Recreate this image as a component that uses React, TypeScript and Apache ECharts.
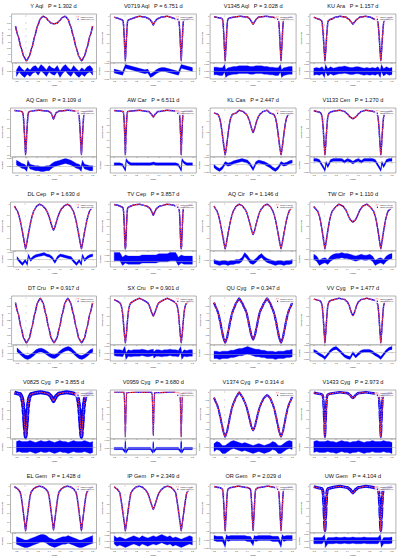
import React, { useEffect, useRef } from "react";
import * as echarts from "echarts";

// ---------- DATA ----------
const STARS = [
  "Y Aql", "V0719 Aql", "V1345 Aql", "KU Ara",
  "AQ Cam", "AW Car", "KL Cas", "V1133 Cen",
  "DL Cep", "TV Cep", "AQ Cir", "TW Cir",
  "DT Cru", "SX Cru", "QU Cyg", "VV Cyg",
  "V0825 Cyg", "V0959 Cyg", "V1374 Cyg", "V1433 Cyg",
  "EL Gem", "IP Gem", "OR Gem", "UW Gem",
];
const PERIODS = [
  1.302, 6.751, 3.028, 1.157,
  3.109, 6.511, 2.447, 1.27,
  1.63, 3.857, 1.146, 1.11,
  0.917, 0.901, 0.347, 1.477,
  3.855, 3.68, 0.314, 2.973,
  1.428, 2.349, 2.029, 4.104,
];
const X_TICKS = [-0.2, 0, 0.2, 0.4, 0.6, 0.8, 1.0, 1.2];

// light curves: [phase, normalized flux], phase 0..1
const LC_Y_AQL = [[0,0.65],[0.05,0.685],[0.1,0.755],[0.15,0.843],[0.2,0.923],[0.25,0.979],[0.3,1.0],[0.35,0.99],[0.4,0.965],[0.45,0.944],[0.5,0.941],[0.55,0.944],[0.6,0.965],[0.65,0.99],[0.7,1.0],[0.75,0.979],[0.8,0.923],[0.85,0.843],[0.9,0.755],[0.95,0.685]];
const LC_V0719_AQL = [[0,0.5],[0.01,0.625],[0.02,0.75],[0.03,0.875],[0.04,0.95],[0.06,0.96],[0.15,0.98],[0.2,0.99],[0.25,1.0],[0.35,0.99],[0.43,0.97],[0.47,0.94],[0.5,0.9],[0.53,0.94],[0.57,0.97],[0.65,0.99],[0.75,1.0],[0.8,0.99],[0.85,0.98],[0.94,0.96],[0.96,0.95],[0.97,0.875],[0.98,0.75],[0.99,0.625]];
const LC_V1345_AQL = [[0,0.5],[0.01,0.6],[0.02,0.725],[0.03,0.85],[0.04,0.94],[0.05,0.97],[0.08,0.98],[0.2,0.995],[0.27,1.0],[0.4,0.99],[0.44,0.97],[0.47,0.94],[0.5,0.91],[0.53,0.94],[0.56,0.97],[0.6,0.99],[0.73,1.0],[0.8,0.995],[0.92,0.98],[0.95,0.97],[0.96,0.94],[0.97,0.85],[0.98,0.725],[0.99,0.6]];
const LC_KU_ARA = [[0,0.5],[0.01,0.575],[0.02,0.675],[0.03,0.775],[0.04,0.86],[0.05,0.93],[0.06,0.95],[0.1,0.965],[0.2,0.99],[0.27,1.0],[0.37,0.99],[0.43,0.965],[0.47,0.935],[0.5,0.91],[0.53,0.935],[0.57,0.965],[0.63,0.99],[0.73,1.0],[0.8,0.99],[0.9,0.965],[0.94,0.95],[0.95,0.93],[0.96,0.86],[0.97,0.775],[0.98,0.675],[0.99,0.575]];
const LC_AQ_CAM = [[0,0.5],[0.01,0.6],[0.02,0.725],[0.03,0.84],[0.04,0.93],[0.05,0.975],[0.07,0.985],[0.15,0.995],[0.2,0.998],[0.25,1.0],[0.4,0.99],[0.45,0.975],[0.47,0.95],[0.5,0.9],[0.53,0.95],[0.55,0.975],[0.6,0.99],[0.75,1.0],[0.8,0.998],[0.85,0.995],[0.93,0.985],[0.95,0.975],[0.96,0.93],[0.97,0.84],[0.98,0.725],[0.99,0.6]];
const LC_AW_CAR = [[0,0.4],[0.005,0.52],[0.01,0.64],[0.02,0.82],[0.03,0.952],[0.04,0.982],[0.1,0.988],[0.2,0.995],[0.25,1.0],[0.42,0.982],[0.46,0.952],[0.5,0.91],[0.54,0.952],[0.58,0.982],[0.75,1.0],[0.8,0.995],[0.9,0.988],[0.96,0.982],[0.97,0.952],[0.98,0.82],[0.99,0.64],[0.995,0.52]];
const LC_KL_CAS = [[0,0.6],[0.02,0.66],[0.04,0.74],[0.06,0.82],[0.08,0.888],[0.1,0.932],[0.13,0.964],[0.2,0.976],[0.25,1.0],[0.32,0.988],[0.37,0.968],[0.4,0.948],[0.43,0.912],[0.46,0.86],[0.48,0.824],[0.5,0.8],[0.52,0.824],[0.54,0.86],[0.57,0.912],[0.6,0.948],[0.63,0.968],[0.68,0.988],[0.75,1.0],[0.8,0.976],[0.87,0.964],[0.9,0.932],[0.92,0.888],[0.94,0.82],[0.96,0.74],[0.98,0.66]];
const LC_V1133_CEN = [[0,0.5],[0.01,0.575],[0.02,0.675],[0.03,0.775],[0.04,0.86],[0.05,0.925],[0.07,0.965],[0.1,0.98],[0.2,0.995],[0.27,1.0],[0.35,0.985],[0.4,0.96],[0.45,0.925],[0.5,0.905],[0.55,0.925],[0.6,0.96],[0.65,0.985],[0.73,1.0],[0.8,0.995],[0.9,0.98],[0.93,0.965],[0.95,0.925],[0.96,0.86],[0.97,0.775],[0.98,0.675],[0.99,0.575]];
const LC_DL_CEP = [[0,0.6],[0.02,0.648],[0.04,0.704],[0.06,0.76],[0.08,0.812],[0.1,0.86],[0.12,0.9],[0.15,0.944],[0.2,0.984],[0.25,1.0],[0.3,0.988],[0.35,0.964],[0.38,0.94],[0.4,0.916],[0.42,0.888],[0.44,0.856],[0.46,0.82],[0.48,0.788],[0.5,0.768],[0.52,0.788],[0.54,0.82],[0.56,0.856],[0.58,0.888],[0.6,0.916],[0.62,0.94],[0.65,0.964],[0.7,0.988],[0.75,1.0],[0.8,0.984],[0.85,0.944],[0.88,0.9],[0.9,0.86],[0.92,0.812],[0.94,0.76],[0.96,0.704],[0.98,0.648]];
const LC_TV_CEP = [[0,0.4],[0.005,0.412],[0.01,0.49],[0.02,0.7],[0.03,0.88],[0.04,0.952],[0.06,0.964],[0.15,0.988],[0.2,0.995],[0.25,1.0],[0.38,0.976],[0.44,0.946],[0.47,0.904],[0.5,0.85],[0.53,0.904],[0.56,0.946],[0.62,0.976],[0.75,1.0],[0.8,0.995],[0.85,0.988],[0.94,0.964],[0.96,0.952],[0.97,0.88],[0.98,0.7],[0.99,0.49],[0.995,0.412]];
const LC_AQ_CIR = [[0,0.6],[0.02,0.648],[0.04,0.704],[0.06,0.76],[0.08,0.812],[0.1,0.86],[0.12,0.9],[0.15,0.944],[0.2,0.984],[0.25,1.0],[0.3,0.988],[0.35,0.96],[0.38,0.932],[0.4,0.904],[0.42,0.868],[0.44,0.832],[0.46,0.792],[0.48,0.752],[0.5,0.728],[0.52,0.752],[0.54,0.792],[0.56,0.832],[0.58,0.868],[0.6,0.904],[0.62,0.932],[0.65,0.96],[0.7,0.988],[0.75,1.0],[0.8,0.984],[0.85,0.944],[0.88,0.9],[0.9,0.86],[0.92,0.812],[0.94,0.76],[0.96,0.704],[0.98,0.648]];
const LC_TW_CIR = [[0,0.6],[0.02,0.66],[0.04,0.728],[0.06,0.792],[0.08,0.848],[0.1,0.892],[0.13,0.94],[0.2,0.98],[0.25,1.0],[0.32,0.984],[0.37,0.952],[0.4,0.92],[0.43,0.884],[0.46,0.856],[0.5,0.84],[0.54,0.856],[0.57,0.884],[0.6,0.92],[0.63,0.952],[0.68,0.984],[0.75,1.0],[0.8,0.98],[0.87,0.94],[0.9,0.892],[0.92,0.848],[0.94,0.792],[0.96,0.728],[0.98,0.66]];
const LC_DT_CRU = [[0,0.7],[0.05,0.73],[0.1,0.805],[0.15,0.895],[0.2,0.97],[0.25,1.0],[0.3,0.97],[0.35,0.895],[0.4,0.805],[0.45,0.73],[0.5,0.7],[0.55,0.73],[0.6,0.805],[0.65,0.895],[0.7,0.97],[0.75,1.0],[0.8,0.97],[0.85,0.895],[0.9,0.805],[0.95,0.73]];
const LC_SX_CRU = [[0,0.5],[0.01,0.55],[0.02,0.61],[0.03,0.69],[0.04,0.765],[0.05,0.83],[0.06,0.88],[0.08,0.93],[0.1,0.95],[0.15,0.97],[0.2,0.985],[0.25,1.0],[0.3,0.985],[0.35,0.97],[0.4,0.95],[0.42,0.93],[0.45,0.88],[0.47,0.84],[0.5,0.8],[0.53,0.84],[0.55,0.88],[0.58,0.93],[0.6,0.95],[0.65,0.97],[0.7,0.985],[0.75,1.0],[0.8,0.985],[0.85,0.97],[0.9,0.95],[0.92,0.93],[0.94,0.88],[0.95,0.83],[0.96,0.765],[0.97,0.69],[0.98,0.61],[0.99,0.55]];
const LC_QU_CYG = [[0,0.7],[0.03,0.73],[0.06,0.784],[0.09,0.844],[0.12,0.892],[0.15,0.928],[0.2,0.97],[0.25,1.0],[0.3,0.97],[0.35,0.931],[0.38,0.907],[0.41,0.856],[0.44,0.799],[0.47,0.748],[0.5,0.721],[0.53,0.748],[0.56,0.799],[0.59,0.856],[0.62,0.907],[0.65,0.931],[0.7,0.97],[0.75,1.0],[0.8,0.97],[0.85,0.928],[0.88,0.892],[0.91,0.844],[0.94,0.784],[0.97,0.73]];
const LC_VV_CYG = [[0,0.5],[0.01,0.575],[0.02,0.67],[0.03,0.765],[0.04,0.85],[0.05,0.915],[0.07,0.96],[0.1,0.975],[0.2,0.99],[0.25,1.0],[0.35,0.985],[0.4,0.96],[0.43,0.925],[0.46,0.865],[0.48,0.825],[0.5,0.805],[0.52,0.825],[0.54,0.865],[0.57,0.925],[0.6,0.96],[0.65,0.985],[0.75,1.0],[0.8,0.99],[0.9,0.975],[0.93,0.96],[0.95,0.915],[0.96,0.85],[0.97,0.765],[0.98,0.67],[0.99,0.575]];
const LC_V0825_CYG = [[0,0.5],[0.01,0.575],[0.02,0.66],[0.03,0.75],[0.04,0.825],[0.05,0.89],[0.07,0.95],[0.1,0.98],[0.2,0.995],[0.27,1.0],[0.4,0.985],[0.45,0.96],[0.48,0.925],[0.5,0.9],[0.52,0.925],[0.55,0.96],[0.6,0.985],[0.73,1.0],[0.8,0.995],[0.9,0.98],[0.93,0.95],[0.95,0.89],[0.96,0.825],[0.97,0.75],[0.98,0.66],[0.99,0.575]];
const LC_V0959_CYG = [[0,0.4],[0.005,0.55],[0.01,0.7],[0.015,0.85],[0.02,0.964],[0.025,0.994],[0.03,1.0],[0.2,1.0],[0.25,0.998],[0.47,1.0],[0.475,0.994],[0.48,0.964],[0.485,0.85],[0.49,0.7],[0.495,0.55],[0.5,0.418],[0.505,0.55],[0.51,0.7],[0.515,0.85],[0.52,0.964],[0.525,0.994],[0.53,1.0],[0.75,0.999],[0.8,1.0],[0.97,1.0],[0.975,0.994],[0.98,0.964],[0.985,0.85],[0.99,0.7],[0.995,0.55]];
const LC_V1374_CYG = [[0,0.7],[0.03,0.73],[0.06,0.784],[0.09,0.844],[0.12,0.892],[0.15,0.928],[0.2,0.97],[0.25,1.0],[0.3,0.973],[0.35,0.934],[0.38,0.904],[0.41,0.862],[0.44,0.814],[0.47,0.766],[0.5,0.742],[0.53,0.766],[0.56,0.814],[0.59,0.862],[0.62,0.901],[0.65,0.931],[0.7,0.964],[0.75,0.982],[0.8,0.964],[0.85,0.922],[0.88,0.886],[0.91,0.838],[0.94,0.784],[0.97,0.73]];
const LC_V1433_CYG = [[0,0.5],[0.01,0.65],[0.02,0.8],[0.03,0.925],[0.04,0.97],[0.07,0.98],[0.2,0.995],[0.27,1.0],[0.4,0.99],[0.45,0.97],[0.48,0.945],[0.5,0.935],[0.52,0.945],[0.55,0.97],[0.6,0.99],[0.73,1.0],[0.8,0.995],[0.93,0.98],[0.96,0.97],[0.97,0.925],[0.98,0.8],[0.99,0.65]];
const LC_EL_GEM = [[0,0.5],[0.02,0.6],[0.04,0.7],[0.06,0.8],[0.08,0.89],[0.1,0.94],[0.15,0.975],[0.2,0.995],[0.25,1.0],[0.3,0.995],[0.35,0.975],[0.4,0.94],[0.42,0.89],[0.44,0.8],[0.46,0.7],[0.48,0.6],[0.5,0.51],[0.52,0.6],[0.54,0.7],[0.56,0.8],[0.58,0.89],[0.6,0.94],[0.65,0.975],[0.7,0.995],[0.75,1.0],[0.8,0.995],[0.85,0.975],[0.9,0.94],[0.92,0.89],[0.94,0.8],[0.96,0.7],[0.98,0.6]];
const LC_IP_GEM = [[0,0.5],[0.02,0.59],[0.04,0.68],[0.06,0.775],[0.08,0.86],[0.1,0.93],[0.15,0.97],[0.2,0.995],[0.25,1.0],[0.3,0.99],[0.35,0.965],[0.4,0.925],[0.42,0.89],[0.44,0.85],[0.46,0.81],[0.48,0.77],[0.5,0.74],[0.52,0.77],[0.54,0.81],[0.56,0.85],[0.58,0.89],[0.6,0.925],[0.65,0.965],[0.7,0.99],[0.75,1.0],[0.8,0.995],[0.85,0.97],[0.9,0.93],[0.92,0.86],[0.94,0.775],[0.96,0.68],[0.98,0.59]];
const LC_OR_GEM = [[0,0.5],[0.01,0.6],[0.02,0.725],[0.03,0.85],[0.04,0.94],[0.05,0.97],[0.1,0.985],[0.2,0.998],[0.25,1.0],[0.4,0.985],[0.45,0.97],[0.46,0.94],[0.47,0.85],[0.48,0.725],[0.49,0.6],[0.5,0.505],[0.51,0.6],[0.52,0.725],[0.53,0.85],[0.54,0.94],[0.55,0.97],[0.6,0.985],[0.75,1.0],[0.8,0.998],[0.9,0.985],[0.95,0.97],[0.96,0.94],[0.97,0.85],[0.98,0.725],[0.99,0.6]];
const LC_UW_GEM = [[0,0.4],[0.01,0.55],[0.02,0.73],[0.03,0.88],[0.04,0.952],[0.06,0.97],[0.2,0.994],[0.27,1.0],[0.4,0.982],[0.45,0.958],[0.48,0.928],[0.5,0.91],[0.52,0.928],[0.55,0.958],[0.6,0.982],[0.73,1.0],[0.8,0.994],[0.94,0.97],[0.96,0.952],[0.97,0.88],[0.98,0.73],[0.99,0.55]];

const LIGHT_CURVES = [
  LC_Y_AQL, LC_V0719_AQL, LC_V1345_AQL, LC_KU_ARA,
  LC_AQ_CAM, LC_AW_CAR, LC_KL_CAS, LC_V1133_CEN,
  LC_DL_CEP, LC_TV_CEP, LC_AQ_CIR, LC_TW_CIR,
  LC_DT_CRU, LC_SX_CRU, LC_QU_CYG, LC_VV_CYG,
  LC_V0825_CYG, LC_V0959_CYG, LC_V1374_CYG, LC_V1433_CYG,
  LC_EL_GEM, LC_IP_GEM, LC_OR_GEM, LC_UW_GEM,
];

// residuals (x 0.001 flux) at phases 0, 0.05, ... 0.95
const RES_PHASES = [0,0.05,0.1,0.15,0.2,0.25,0.3,0.35,0.4,0.45,0.5,0.55,0.6,0.65,0.7,0.75,0.8,0.85,0.9,0.95];
const RES_VALUES = [
  [0,-2,1,2,-1,3,1,-2,2,0,-1,2,-3,1,3,0,-2,2,-1,-3],
  [6,5,4,3,2,1,0,-1,0,-6,-4,-1,1,2,2,1,0,-1,-2,-3],
  [0,-1,0,1,1,2,2,2,2,1,1,2,2,2,1,1,0,0,-1,-1],
  [0,-2,1,-1,0,1,1,2,1,0,0,1,1,0,-1,0,-1,0,-1,1],
  [0,-1,-2,-3,-3,-4,-4,-3,-3,0,2,3,4,5,6,5,4,2,0,-1],
  [-6,3,1,1,1,1,1,1,1,1,2,1,1,1,1,1,1,1,1,0],
  [2,0,1,3,4,5,6,5,4,0,-6,2,4,3,2,0,-2,-5,-7,-4],
  [-8,-4,2,3,3,3,3,1,3,2,0,2,3,1,3,3,3,3,2,-3],
  [0,-1,3,5,6,7,8,6,5,2,-4,3,6,5,4,3,2,-3,-7,-2],
  [2,1,1,1,1,1,2,2,2,2,2,2,3,3,3,3,4,4,4,0],
  [-2,-3,-2,-2,-1,-1,1,6,3,-1,-2,0,3,5,2,0,-1,-2,-3,-2],
  [-1,-3,1,3,4,4,5,4,4,3,2,1,2,3,2,2,3,1,-4,-2],
  [-7,-5,-2,2,4,4.5,3,0,-3,-5,-5.5,-3,1,4,6,7,5,1,-3,-6],
  [1,0,-1,0,0,0,1,0,-1,0,1,0,0,-1,0,0,1,0,0,-1],
  [-1,-1,0,0,1,2,2,3,4,3,2,1,1,0,0,-1,-1,-1,-2,-1],
  [-8,-3,2,5,6,3,-1,-5,-7,-8,-1,-6,-2,1,2,2,2,0,-3,-5],
  [0,1,0,-1,0,1,0,0,1,0,-1,0,1,0,0,-1,0,1,0,0],
  [8,-1,-1,-1,-1,-1,-1,-1,-1,-1,7,-1,-1,-1,-1,-1,-1,-1,-1,-1],
  [-2,0,2,3,2,1,0,1,0,-1,-2,-1,0,-1,-2,-1,0,2,1,-2],
  [0,1,0,0,-1,0,1,0,0,-1,0,0,1,0,-1,0,0,1,0,0],
  [-1,0,1,2,3,4,4,3,1,0,-1,0,1,2,2,3,2,1,0,-1],
  [-2,-1,0,1,0,-1,1,0,-1,0,1,0,1,2,1,0,1,-1,0,-1],
  [-6,1,2,2,2,2,2,2,1,1,-4,1,2,2,2,2,2,1,1,1],
  [0,0,0,0,1,0,0,1,0,0,1,0,0,0,1,0,0,0,0,0],
];
// extra residual excursions near eclipses [phase, value]
const RES_SPIKES = [
  [], [], [[0.01,-4],[0.99,4]], [[0.01,4],[0.99,-4]],
  [[0.01,4],[0.99,-4]], [[0.015,6],[0.985,-4]], [], [[0.02,0],[0.98,-6]],
  [[0.01,6],[0.99,-7]], [], [], [],
  [], [[0.01,-5],[0.99,5],[0.51,-3]], [], [],
  [], [[0.01,-6],[0.99,-5],[0.49,-6],[0.51,-5]], [], [],
  [], [], [[0.02,3],[0.98,-3],[0.52,2]], [[0.01,-6],[0.99,5]],
];
// scatter half-width of the residuals (x 0.001 flux)
const RES_SPREAD = [3,2.5,6,5, 3,1.5,2,1.5, 2,3.5,2,3, 3,5,4,2, 6,1.5,4,6, 3.5,3.5,3,5];

// ---------- STYLE ----------
const OBS_WIDTH = [1.5,1.5,1.5,1.5, 1.5,1.5,1.5,1.5, 1.5,1.5,1.5,1.5, 1.5,1.5,2.2,1.5, 4,1.2,2,2.5, 1.5,1.5,1.5,3];
const BLUE = "#0000ff";
const RED = "#ff3b3b";
const FONT = "Liberation Sans, Arial, sans-serif";

function fold(pts: number[][]): number[][] {
  const out: number[][] = [];
  for (const [p, v] of pts) {
    out.push([p, v]);
    if (p - 1 >= -0.2001) out.push([p - 1, v]);
    if (p + 1 <= 1.2001) out.push([p + 1, v]);
  }
  out.sort((a, b) => a[0] - b[0]);
  return out;
}

function buildOption() {
  const grid: any[] = [];
  const xAxis: any[] = [];
  const yAxis: any[] = [];
  const series: any[] = [];
  const elements: any[] = [];
  const W = 86, HM = 49, HR = 16;

  STARS.forEach((name, i) => {
    const c = i % 4, r = Math.floor(i / 4);
    const left = 10.5 + 99.8 * c;
    const top = 14 + 94 * r;
    const lc = fold(LIGHT_CURVES[i]);
    const fl = LIGHT_CURVES[i].map((p) => p[1]);
    const fmin = Math.min(...fl), fmax = Math.max(...fl);
    const fr = fmax - fmin;

    const resRaw: number[][] = RES_PHASES.map((p, k) => [p, RES_VALUES[i][k]]).concat(RES_SPIKES[i] as number[][]);
    resRaw.sort((a, b) => a[0] - b[0]);
    const res = fold(resRaw);
    const s = RES_SPREAD[i];
    const lo = Math.min(...res.map((d) => d[1] - s)) / 1000;
    const hi = Math.max(...res.map((d) => d[1] + s)) / 1000;
    const rr = hi - lo;

    const gm = 2 * i, gr = 2 * i + 1;
    const frame = { show: true, borderColor: "#666", borderWidth: 0.5, backgroundColor: "#fff" };
    grid.push({ left, top, width: W, height: HM, ...frame });
    grid.push({ left, top: top + HM, width: W, height: HR, ...frame });

    const tickStyle = { lineStyle: { color: "#444", width: 0.4 } };
    xAxis.push({
      gridIndex: gm, type: "value", min: -0.27, max: 1.27,
      axisLine: { show: false }, splitLine: { show: false },
      axisLabel: { show: false },
      axisTick: { show: true, length: 1, customValues: X_TICKS, ...tickStyle },
    });
    xAxis.push({
      gridIndex: gr, type: "value", min: -0.27, max: 1.27,
      axisLine: { show: false }, splitLine: { show: false },
      axisTick: { show: true, length: 1, customValues: X_TICKS, ...tickStyle },
      axisLabel: {
        show: true, customValues: X_TICKS, fontSize: 2, margin: 1.5, color: "#222",
        fontFamily: FONT, formatter: (v: number) => v.toFixed(1),
      },
      name: "Phase", nameLocation: "middle", nameGap: 5.5,
      nameTextStyle: { fontSize: 2, color: "#222", fontFamily: FONT },
    });
    yAxis.push({
      gridIndex: gm, type: "value",
      min: fmin - 0.05 * fr, max: fmax + 0.05 * fr, splitNumber: 6,
      axisLine: { show: false }, splitLine: { show: false },
      axisTick: { show: true, length: 1, ...tickStyle },
      axisLabel: { fontSize: 1.9, margin: 1, color: "#222", fontFamily: FONT, showMinLabel: false, showMaxLabel: false },
      name: "Normalized flux", nameLocation: "middle", nameGap: 7.5,
      nameTextStyle: { fontSize: 1.9, color: "#222", fontFamily: FONT },
    });
    yAxis.push({
      gridIndex: gr, type: "value",
      min: lo - 0.12 * rr, max: hi + 0.12 * rr, splitNumber: 2,
      axisLine: { show: false }, splitLine: { show: false },
      axisTick: { show: true, length: 1, ...tickStyle },
      axisLabel: { fontSize: 1.9, margin: 1, color: "#222", fontFamily: FONT, showMinLabel: false, showMaxLabel: false,
        formatter: (v: number) => v.toFixed(3) },
      name: "Residuals", nameLocation: "middle", nameGap: 7.5,
      nameTextStyle: { fontSize: 1.9, color: "#222", fontFamily: FONT },
    });

    series.push({
      type: "line", name: "TESS observed", xAxisIndex: gm, yAxisIndex: gm, data: lc,
      showSymbol: false, smooth: 0.2, smoothMonotone: "x", silent: true, z: 2,
      lineStyle: { color: BLUE, width: OBS_WIDTH[i] },
    });
    series.push({
      type: "line", name: "TESS synthetic", xAxisIndex: gm, yAxisIndex: gm, data: lc,
      showSymbol: false, smooth: 0.2, smoothMonotone: "x", silent: true, z: 3,
      lineStyle: { color: RED, width: 1.1, type: [1.6, 0.8] },
    });
    // residual centre line with zero reference line
    series.push({
      type: "line", xAxisIndex: gr, yAxisIndex: gr,
      data: res.map(([p, v]) => [p, v / 1000]),
      showSymbol: false, silent: true, z: 4,
      lineStyle: { width: 0.6, color: BLUE },
      markLine: {
        silent: true, symbol: "none", label: { show: false },
        lineStyle: { color: "#aaa", width: 0.5, type: "solid" },
        data: [{ yAxis: 0 }],
      },
    });
    // residual scatter band
    series.push({
      type: "custom", xAxisIndex: gr, yAxisIndex: gr, silent: true, z: 3,
      data: [[0, 0]],
      renderItem: (_params: any, api: any) => {
        const up = res.map(([p, v]) => api.coord([p, (v + s) / 1000]));
        const dn = res.map(([p, v]) => api.coord([p, (v - s) / 1000])).reverse();
        return {
          type: "polygon",
          shape: { points: up.concat(dn) },
          style: { fill: BLUE, stroke: BLUE, lineWidth: 0.3 },
        };
      },
    });

    // title
    elements.push({
      type: "text", x: left + W / 2, y: top - 8, z: 20,
      style: {
        text: `${name}   P = ${PERIODS[i].toFixed(3)} d`,
        fontSize: 5.6, fontFamily: FONT, fill: "#111",
        align: "center", verticalAlign: "middle",
      },
    });
    // legend
    const lx = left + W - 21;
    elements.push({
      type: "rect", z: 20, shape: { x: lx, y: top + 1, width: 20, height: 6, r: 0.5 },
      style: { fill: "rgba(255,255,255,0.8)", stroke: "#ddd", lineWidth: 0.3 },
    });
    elements.push({
      type: "line", z: 21, shape: { x1: lx + 1, y1: top + 2.8, x2: lx + 4, y2: top + 2.8 },
      style: { stroke: RED, lineWidth: 0.6, lineDash: [1, 0.5] },
    });
    elements.push({
      type: "text", z: 21, x: lx + 5, y: top + 2.8,
      style: { text: "TESS synthetic", fontSize: 1.9, fontFamily: FONT, fill: "#333", verticalAlign: "middle" },
    });
    elements.push({
      type: "circle", z: 21, shape: { cx: lx + 2.5, cy: top + 5.2, r: 0.6 },
      style: { fill: BLUE },
    });
    elements.push({
      type: "text", z: 21, x: lx + 5, y: top + 5.2,
      style: { text: "TESS observed", fontSize: 1.9, fontFamily: FONT, fill: "#333", verticalAlign: "middle" },
    });
  });

  return {
    animation: false,
    backgroundColor: "#fff",
    textStyle: { fontFamily: FONT },
    grid, xAxis, yAxis, series,
    graphic: { elements },
  };
}

export default function App() {
  const ref = useRef<HTMLDivElement>(null);
  useEffect(() => {
    if (!ref.current) return;
    const chart = echarts.init(ref.current, undefined, { renderer: "svg" });
    chart.setOption(buildOption() as any);
    return () => chart.dispose();
  }, []);
  return (
    <div
      ref={ref}
      style={{ position: "fixed", left: 0, top: 0, width: 400, height: 558, background: "#fff" }}
    />
  );
}
